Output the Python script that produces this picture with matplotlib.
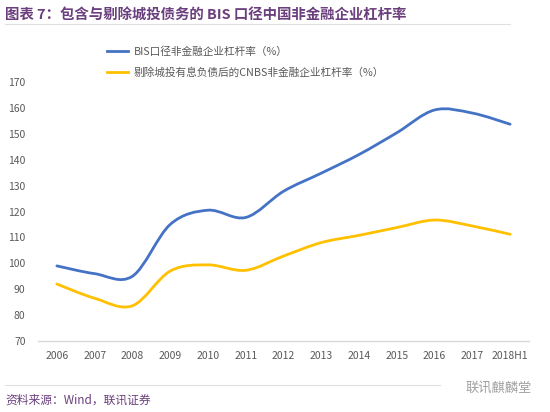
import numpy as np
import matplotlib
matplotlib.use('Agg')
from matplotlib import pyplot as plt
from matplotlib.path import Path
from matplotlib.patches import PathPatch
from matplotlib.lines import Line2D

plt.rcParams['font.family'] = ['Noto Sans CJK SC', 'DejaVu Sans']

years = ['2006', '2007', '2008', '2009', '2010', '2011', '2012',
         '2013', '2014', '2015', '2016', '2017', '2018H1']
bis_lev = [99, 96, 95, 115, 120.5, 117.7, 127.8, 134.8, 142, 150.4, 159.2, 158, 153.7]
cnbs_ex = [92, 86.5, 83.6, 97, 99.4, 97.3, 102.8, 108, 110.8, 113.8, 116.7, 114.4, 111.2]
labels = ['BIS口径非金融企业杠杆率（%）', '剔除城投有息负债后的CNBS非金融企业杠杆率（%）']
colors = ['#4472C4', '#FFC000']

purple = '#6B3F7D'
grey = '#595959'


def smooth_path(x, y):
    # catmull-rom through the points, written as cubic bezier segments
    p = np.column_stack([x, y]).astype(float)
    ext = np.vstack([p[0], p, p[-1]])
    verts = [p[0]]
    codes = [Path.MOVETO]
    for i in range(len(p) - 1):
        p0, p1, p2, p3 = ext[i], ext[i + 1], ext[i + 2], ext[i + 3]
        verts += [p1 + (p2 - p0) / 6, p2 - (p3 - p1) / 6, p2]
        codes += [Path.CURVE4] * 3
    return Path(verts, codes)


fig = plt.figure(figsize=(5.5, 4.12), dpi=100)
ax = fig.add_axes([38 / 550, 1 - 341 / 412, (529 - 38) / 550, (341 - 82) / 412])

x = np.arange(len(years))
for vals, c in zip([bis_lev, cnbs_ex], colors):
    ax.add_patch(PathPatch(smooth_path(x, vals), facecolor='none', edgecolor=c,
                           lw=2.0, capstyle='round', joinstyle='round'))

ax.set_xlim(-0.5, len(years) - 0.5)
ax.set_ylim(70, 170)
ax.set_yticks(np.arange(70, 171, 10))
ax.set_xticks(x)
ax.set_xticklabels(years)
for s in ['top', 'right', 'left']:
    ax.spines[s].set_visible(False)
ax.spines['bottom'].set_color('#D9D9D9')
ax.spines['bottom'].set_linewidth(1.0)
ax.tick_params(axis='both', length=0, labelsize=7.5, labelcolor=grey)
ax.tick_params(axis='y', pad=9)
ax.tick_params(axis='x', pad=7)

handles = [Line2D([], [], color=c, lw=2.0) for c in colors]
fig.legend(handles, labels, loc='upper left', bbox_to_anchor=(107 / 550, 1 - 46 / 412),
           frameon=False, fontsize=7.7, handlelength=2.0, handletextpad=0.5,
           labelspacing=0.95, borderpad=0, borderaxespad=0, labelcolor=grey)

fig.text(5 / 550, 1 - 15 / 412, '图表 7：包含与剔除城投债务的 BIS 口径中国非金融企业杠杆率',
         fontsize=10.4, fontweight='bold', color=purple, va='center', ha='left')
fig.add_artist(Line2D([5 / 550, 510 / 550], [1 - 24 / 412, 1 - 24 / 412],
                      color='#E0E0E0', lw=0.8))
fig.add_artist(Line2D([5 / 550, 440 / 550], [1 - 385 / 412, 1 - 385 / 412],
                      color='#E0E0E0', lw=0.8))
fig.text(5 / 550, 1 - 400 / 412, '资料来源：Wind，联讯证券', fontsize=8.5,
         style='italic', color=purple, va='center', ha='left')
fig.text(532 / 550, 1 - 388 / 412, '联讯麒麟堂', fontsize=9.5, color='#A0A0A0',
         va='center', ha='right')

fig.savefig('out.png', dpi=100)
